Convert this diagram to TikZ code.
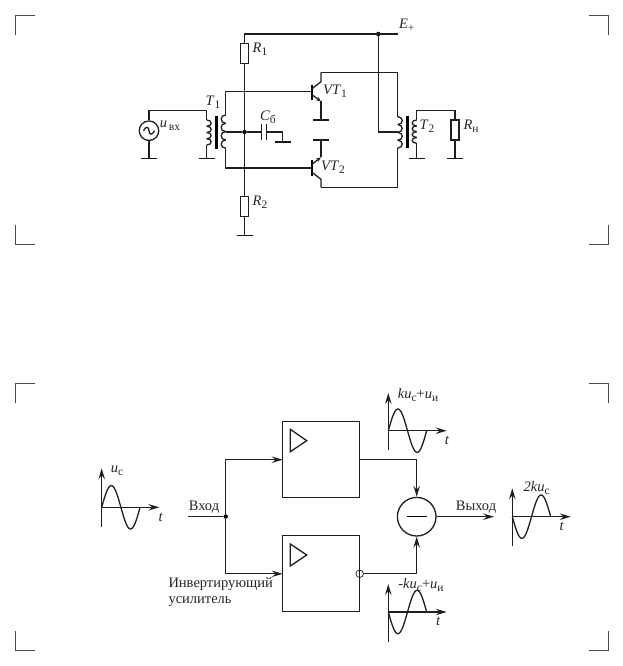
\documentclass[tikz,border=0pt]{standalone}
\usepackage{fontspec}
\setmainfont{Liberation Serif}
\usetikzlibrary{arrows.meta}
\tikzset{
	wire/.style={line width=1.3pt, black!88},
	lbl/.style={inner sep=0pt, text=black!85, font=\fontsize{14.5}{16.5}\selectfont},
	resbox/.style={draw=black!88, line width=1.3pt, fill=white, inner sep=0pt, outer sep=0pt, minimum width=8pt, minimum height=20pt},
	ampbox/.style={draw=black!88, line width=1.3pt, inner sep=0pt, outer sep=0pt, minimum width=77pt, minimum height=76pt},
	dot/.style={circle, fill=black, inner sep=0pt, minimum size=4.5pt},
	crop/.style={line width=1pt, black!70},
	>={Stealth[length=11pt, width=6.5pt, inset=4pt]}
}
\newcommand{\gnd}[1]{\draw[line width=1.6pt, black!90] ([xshift=-8pt]#1) -- ([xshift=8pt]#1);}
\newcommand{\sbs}[1]{\raisebox{-3pt}{\fontsize{11.5}{12}\selectfont #1}}
% coil: x, top y, bump height, bump width
\newcommand{\coil}[4]{\foreach \k in {0,...,3} \draw[wire] (#1,{#2+\k*#3}) .. controls ({#1+#4},{#2+\k*#3}) and ({#1+#4},{#2+(\k+1)*#3}) .. (#1,{#2+(\k+1)*#3});}
% axes and wave: x0, y0, y bottom, y top, x end, sign
\newcommand{\sigplot}[6]{
	\draw[wire, ->] (#1,#3) -- (#1,#4);
	\draw[wire, ->] (#1,#2) -- (#5,#2);
	\draw[wire] plot[domain=0:360, samples=49, smooth] ({#1+\x/9.375},{#2-#6*21.7*sin(\x)});
}
\begin{document}
\begin{tikzpicture}[x=1pt, y=-1pt]
	\useasboundingbox (0,0) rectangle (623,666);
	% crop marks
	\foreach \ytop/\ybot in {15.5/244.7, 383.3/650.7} {
		\draw[crop] (35,\ytop) -- (15.5,\ytop) -- (15.5,\ytop+19.7);
		\draw[crop] (588.5,\ytop) -- (608.4,\ytop) -- (608.4,\ytop+19.7);
		\draw[crop] (15.5,\ybot-19.7) -- (15.5,\ybot) -- (35,\ybot);
		\draw[crop] (588.5,\ybot) -- (608.4,\ybot) -- (608.4,\ybot-19.7);
	}
	% power rail and divider
	\coordinate (railL) at (244.5,34);
	\coordinate (railR) at (398,34);
	\coordinate (gndR2) at (244.5,235.3);
	\node[resbox] (R1) at (244.5,53.3) {};
	\node[resbox] (R2) at (244.5,206.7) {};
	\node[dot] (midpt) at (244.5,132) {};
	\node[dot] (tap) at (378.3,34) {};
	\draw[wire] (railR) -- (railL) -- (R1.north);
	\draw[wire] (R1.south) -- (R2.north);
	\draw[wire] (R2.south) -- (gndR2);
	\gnd{gndR2}
	% input source and T1
	\node[circle, draw=black!88, line width=1.3pt, inner sep=0pt, minimum size=19.5pt] (src) at (149,130.7) {};
	\draw[wire] (143.5,130.7) .. controls (146,125.5) and (149,127) .. (149,130.7) .. controls (149,134.4) and (152,136) .. (154.5,130.7);
	\coordinate (srcT) at (149,110.7);
	\coordinate (srcG) at (149,158.3);
	\coordinate (pT) at (206.7,110.7);
	\coordinate (pA) at (206.7,120);
	\coordinate (pB) at (206.7,145);
	\coordinate (pG) at (206.7,158.3);
	\draw[wire] (src.north) -- (srcT) -- (pT) -- (pA);
	\draw[wire] (pB) -- (pG);
	\draw[wire] (src.south) -- (srcG);
	\gnd{srcG}
	\gnd{pG}
	\coil{206.7}{120}{6.25}{6}
	\draw[line width=3pt] (216.3,115.7) -- (216.3,149);
	\coil{225.7}{115}{8.3}{-6}
	\coordinate (sA) at (225.7,115);
	\coordinate (sB) at (225.7,148.3);
	\coordinate (sM) at (225.7,132);
	\coordinate (baseA) at (311.7,91.7);
	\coordinate (baseB) at (311.7,168);
	\draw[wire] (sA) |- (baseA);
	\draw[wire] (sB) |- (baseB);
	\draw[wire] (sM) -- (midpt);
	% capacitor
	\coordinate (capL) at (261.7,132);
	\coordinate (capR) at (266.7,132);
	\coordinate (capG) at (282.7,141.7);
	\draw[wire] (midpt) -- (capL);
	\draw[wire] (capR) -| (capG);
	\draw[wire] (261.7,124.3) -- (261.7,140);
	\draw[wire] (266.7,124.3) -- (266.7,140);
	\gnd{capG}
	% transistors
	\draw[line width=1.6pt] (311.7,85) -- (311.7,100);
	\draw[line width=1.6pt] (311.7,160) -- (311.7,176);
	\coordinate (col1) at (321,72.3);
	\coordinate (em1) at (321,120);
	\coordinate (em2) at (321,140);
	\coordinate (col2) at (321,187.3);
	\draw[wire] (311.7,89) -- (321,81.7) -- (col1);
	\draw[wire, -{Stealth[length=5pt, width=4pt]}] (311.7,94.5) -- (321,101.5);
	\draw[wire] (321,101) -- (em1);
	\draw[wire, -{Stealth[length=5pt, width=4pt]}] (311.7,164.5) -- (321,157.3);
	\draw[wire] (321,157.3) -- (em2);
	\draw[wire] (311.7,172) -- (321,179.3) -- (col2);
	\gnd{em1}
	\gnd{em2}
	% T2 and load
	\coordinate (oA) at (397.7,116.7);
	\coordinate (oB) at (397.7,148);
	\coordinate (oM) at (397.7,132);
	\coordinate (qT) at (416.7,110.7);
	\coordinate (qA) at (416.7,120);
	\coordinate (qB) at (416.7,143.3);
	\coordinate (qG) at (416.7,158.3);
	\coordinate (loadT) at (455,110.7);
	\coordinate (loadG) at (455,158.3);
	\node[resbox] (Rn) at (455,130) {};
	\draw[wire] (col1) -| (oA);
	\draw[wire] (col2) -| (oB);
	\draw[wire] (tap) |- (oM);
	\coil{397.7}{116.7}{7.83}{6}
	\draw[line width=3pt] (407,115.7) -- (407,148.3);
	\coil{416.7}{120}{5.83}{-6}
	\draw[wire] (qA) -- (qT) -- (loadT) -- (Rn.north);
	\draw[wire] (qB) -- (qG);
	\draw[wire] (Rn.south) -- (loadG);
	\gnd{qG}
	\gnd{loadG}
	% circuit labels
	\node[lbl] (lR1) at (260,49) {\textit{R}\sbs{1}};
	\node[lbl] (lR2) at (260,202.7) {\textit{R}\sbs{2}};
	\node[lbl] (lT1) at (213,102.7) {\textit{T}\sbs{1}};
	\node[lbl] (lT2) at (427,126) {\textit{T}\sbs{2}};
	\node[lbl] (lCb) at (268,117) {\textit{C}\sbs{б}};
	\node[lbl] (luv) at (170,126) {\textit{u}\sbs{\,вх}};
	\node[lbl] (lE) at (406.7,25) {\textit{E}\sbs{+}};
	\node[lbl] (lVT1) at (335,91) {\textit{VT}\sbs{1}};
	\node[lbl] (lVT2) at (333,167) {\textit{VT}\sbs{2}};
	\node[lbl] (lRn) at (471,126) {\textit{R}\sbs{н}};
	% block diagram
	\node[ampbox] (amp1) at (321.2,459.7) {};
	\node[ampbox] (amp2) at (321.2,573.8) {};
	\draw[wire] (290.3,429.3) -- (290.3,451.7) -- (306.7,440.7) -- cycle;
	\draw[wire] (290.3,544) -- (290.3,566) -- (306.7,555) -- cycle;
	\coordinate (inL) at (187.7,516.5);
	\node[dot] (split) at (225.7,516.5) {};
	\node[circle, draw=black!88, line width=0.7pt, inner sep=0pt, minimum size=7.5pt] (inv) at (amp2.east) {};
	\node[circle, draw=black!88, line width=1.3pt, inner sep=0pt, minimum size=38.6pt] (sub) at (416.7,516.7) {};
	\draw[line width=1.3pt] (406.7,516.7) -- (426.7,516.7);
	\coordinate (outR) at (494,516.7);
	\draw[wire] (inL) -- (split);
	\draw[wire, ->] (split) |- (amp1.west);
	\draw[wire, ->] (split) |- (amp2.west);
	\draw[wire, ->] (amp1.east) -| (sub.north);
	\draw[wire, ->] (inv) -| (sub.south);
	\draw[wire, ->] (sub.east) -- (outR);
	\node[lbl] (lIn) at (204,507.3) {Вход};
	\node[lbl] (lOut) at (476,507.3) {Выход};
	\node[lbl, align=left, anchor=west] (lInv) at (168.3,592) {Инвертирующий\\усилитель};
	% signal plots
	\sigplot{101.7}{507.3}{526.7}{468.3}{159.3}{1}
	\sigplot{388.3}{430.7}{450}{393}{446.7}{1}
	\sigplot{512.3}{516.7}{545.7}{488.3}{570.7}{-1}
	\sigplot{388.3}{612}{641.7}{584}{446.7}{-1}
	\node[lbl] (lu1) at (117,471) {\textit{u}\sbs{с}};
	\node[lbl] (ltA) at (160.7,517) {\textit{t}};
	\node[lbl] (lu2) at (418,395) {\textit{ku}\sbs{с}+\textit{u}\sbs{и}};
	\node[lbl] (ltB) at (447,440) {\textit{t}};
	\node[lbl] (lu3) at (536.7,488) {\textit{2ku}\sbs{с}};
	\node[lbl] (ltC) at (561.7,526.7) {\textit{t}};
	\node[lbl] (lu4) at (421,585) {\textit{-ku}\sbs{с}+\textit{u}\sbs{и}};
	\node[lbl] (ltD) at (438.3,621.7) {\textit{t}};
\end{tikzpicture}
\end{document}
